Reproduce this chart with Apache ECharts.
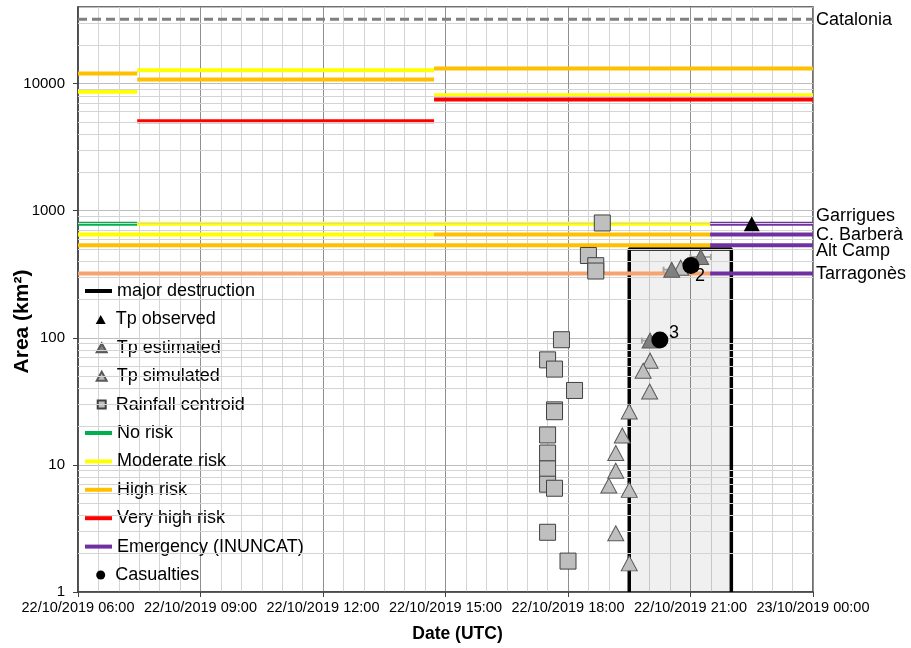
<!DOCTYPE html>
<html><head><meta charset="utf-8">
<script src="https://cdn.jsdelivr.net/npm/echarts@6/dist/echarts.min.js"></script>
<style>html,body{margin:0;padding:0;background:#fff}#c{width:911px;height:648px}</style>
</head><body><div id="c"></div>
<script>
// ---------------- DATA ----------------
// x values: hours since 22/10/2019 00:00 UTC ; areas in km2
const xTickLabels = ['22/10/2019 06:00','22/10/2019 09:00','22/10/2019 12:00','22/10/2019 15:00','22/10/2019 18:00','22/10/2019 21:00','23/10/2019 00:00'];
const yTickLabels = ['1','10','100','1000','10000'];

// warning segments: [start hour, end hour, area]
const noRisk       = [[6,7.45,790]];
const moderateRisk = [[6,7.45,8600],[7.45,14.72,12700],[14.72,24,8100],[7.45,21.48,790],[6,14.72,650]];
const highRisk     = [[6,7.45,12000],[7.45,14.72,10750],[14.72,24,13100],[14.72,21.48,650],[6,21.48,535]];
const veryHighRisk = [[7.45,14.72,5050],[14.72,24,7480]];
const tarragonesWarning = [[6,21.48,320]];
const emergency    = [[21.48,24,790],[21.48,24,650],[21.48,24,535],[21.48,24,320]];
const regionNames  = ['Garrigues','C. Barberà','Alt Camp','Tarragonès'];
const cataloniaArea = 32100;
const cataloniaName = 'Catalonia';

const majorDestruction = [19.5, 22, 500]; // start, end, area
const tpObserved  = [[22.5,790]];
const tpEstimated = [[20.01,95],[20.54,343],[21.25,432]];
const tpEstimatedErr = [0.2,0.2,0.25];
const tpSimulated = [[19.5,26.3],[19.33,17],[19.17,12.4],[19.17,9.0],[19.0,6.87],[19.5,6.36],[19.17,2.9],[19.5,1.68],
                     [20.01,66],[19.84,55],[20.0,37.8],[20.76,356]];
const rainfallCentroid = [[18.84,800],[18.5,444],[18.68,369],[18.68,335],[17.84,96.5],[17.5,67],[17.67,56.7],[18.16,38.5],
                          [17.67,27.1],[17.67,26.2],[17.5,17.2],[17.5,12.4],[17.5,9.3],[17.5,7.05],[17.67,6.55],[17.5,2.95],[18.0,1.75]];
const casualties = [[21.01,371],[20.25,96]];
const casualtyLabels = ['2','3'];

// ---------------- CHART ----------------
const FONT = 'Liberation Sans, Arial, sans-serif';
const COLORS = {no:'#00b050', mod:'#ffff00', high:'#ffc000', vhigh:'#ff0000', emer:'#7030a0', tarr:'#f4a470'};

const yMinor = [];
for (let e = 0; e < 5; e++) for (let m = 2; m <= 9; m++) { const v = m * Math.pow(10, e); if (v < 40000) yMinor.push(v); }

const series = [];
// minor log grid lines
series.push({
  type:'line', data:[], z:1, silent:true,
  markLine:{silent:true, symbol:['none','none'], label:{show:false}, animation:false,
    lineStyle:{color:'#d4d4d4', width:1, type:'solid'},
    data: yMinor.map(v => ({yAxis:v}))}
});

function segSeries(name, segs, color, width, z, extra) {
  segs.forEach((s, i) => {
    const o = {type:'line', name, data:[[s[0], s[2]], [s[1], s[2]]], symbol:'none', silent:true, z,
      lineStyle:{color, width, cap:'butt'}, itemStyle:{color}};
    if (extra) Object.assign(o, extra(i));
    series.push(o);
  });
}
// major destruction box
series.push({type:'line', name:'major destruction', symbol:'none', silent:true, z:2,
  data:[[majorDestruction[0],1],[majorDestruction[0],majorDestruction[2]],[majorDestruction[1],majorDestruction[2]],[majorDestruction[1],1]],
  lineStyle:{color:'#000', width:3.5}, itemStyle:{color:'#000'},
  areaStyle:{color:'rgba(0,0,0,0.085)', origin:'start'}});

// Catalonia
series.push({type:'line', name:cataloniaName, data:[[6,cataloniaArea],[24,cataloniaArea]], symbol:'none', silent:true, z:3,
  lineStyle:{color:'#808080', width:3, type:[9,5]}, itemStyle:{color:'#808080'},
  endLabel:{show:true, formatter:cataloniaName, color:'#000', fontSize:18, fontFamily:FONT, distance:3, offset:[0,1]}});

segSeries('No risk', noRisk, COLORS.no, 4, 3);
segSeries('Moderate risk', moderateRisk, COLORS.mod, 4, 3);
segSeries('High risk', highRisk, COLORS.high, 4, 3);
segSeries('Very high risk', veryHighRisk, COLORS.vhigh, 4, 3);
segSeries('Tarragonès warning', tarragonesWarning, COLORS.tarr, 4, 3);
const regionLabelDy = [-8, 0.5, 6, 0];
segSeries('Emergency (INUNCAT)', emergency, COLORS.emer, 4, 3, i => ({
  endLabel:{show:true, formatter:regionNames[i], color:'#000', fontSize:18, fontFamily:FONT, distance:3, offset:[0, regionLabelDy[i]]}
}));

series.push({type:'scatter', name:'Rainfall centroid', data:rainfallCentroid, symbol:'rect', symbolSize:16, z:5,
  itemStyle:{color:'#bfbfbf', borderColor:'#404040', borderWidth:1, opacity:1}});
series.push({type:'scatter', name:'Tp simulated', data:tpSimulated, symbol:'triangle', symbolSize:[16,15], z:6,
  itemStyle:{color:'#bfbfbf', borderColor:'#595959', borderWidth:1, opacity:1}});
series.push({type:'custom', name:'err', silent:true, z:6,
  data: tpEstimated.map((d, i) => [d[0], d[1], tpEstimatedErr[i]]),
  encode:{x:0, y:1},
  renderItem:(params, api) => {
    const x = api.value(0), y = api.value(1), e = api.value(2);
    const p1 = api.coord([x - e, y]), p2 = api.coord([x + e, y]);
    const st = {stroke:'#a6a6a6', lineWidth:2};
    return {type:'group', children:[
      {type:'line', shape:{x1:p1[0], y1:p1[1], x2:p2[0], y2:p2[1]}, style:st},
      {type:'line', shape:{x1:p1[0], y1:p1[1]-3, x2:p1[0], y2:p1[1]+3}, style:st},
      {type:'line', shape:{x1:p2[0], y1:p2[1]-3, x2:p2[0], y2:p2[1]+3}, style:st}
    ]};
  }});
series.push({type:'scatter', name:'Tp estimated', data:tpEstimated, symbol:'triangle', symbolSize:[16,15], z:7,
  itemStyle:{color:'#808080', borderColor:'#595959', borderWidth:1, opacity:1}});
series.push({type:'scatter', name:'Tp observed', data:tpObserved, symbol:'triangle', symbolSize:[16,15], z:7,
  itemStyle:{color:'#000', opacity:1}});
const casualtyLabelOffsets = [[-9.5, 11], [-4.5, -7]];
series.push({type:'scatter', name:'Casualties', symbol:'circle', symbolSize:17, z:8,
  data: casualties.map((d, i) => ({value:d, label:{show:true, formatter:casualtyLabels[i], position:'right', offset:casualtyLabelOffsets[i],
    color:'#000', fontSize:18, fontFamily:FONT}})),
  itemStyle:{color:'#000', opacity:1}});

// legends
const legendItems = [
  {name:'major destruction', kind:'line'},
  {name:'Tp observed', kind:'sym', icon:'triangle', w:10, h:9},
  {name:'Tp estimated', kind:'sym', icon:'triangle', w:10, h:9},
  {name:'Tp simulated', kind:'sym', icon:'triangle', w:10, h:9},
  {name:'Rainfall centroid', kind:'sym', icon:'rect', w:8, h:8},
  {name:'No risk', kind:'line'},
  {name:'Moderate risk', kind:'line'},
  {name:'High risk', kind:'line'},
  {name:'Very high risk', kind:'line'},
  {name:'Emergency (INUNCAT)', kind:'line'},
  {name:'Casualties', kind:'sym', icon:'circle', w:9, h:9}
];
const legends = legendItems.map((it, i) => {
  const yc = 291 + i * 28.4;
  const base = {data:[{name:it.name, icon: it.kind === 'line' ? 'rect' : it.icon}], selectedMode:false, orient:'horizontal',
    padding:0, textStyle:{fontSize:18, fontFamily:FONT, color:'#000', lineHeight:20}, top: yc - 10};
  if (it.kind === 'line') return Object.assign(base, {left:85, itemWidth:27, itemHeight:4});
  return Object.assign(base, {left: 100.7 - it.w / 2, itemWidth:it.w, itemHeight:it.h,
    formatter: n => ' '.repeat(Math.max(0, Math.round((116.7 - (100.7 + it.w / 2) - 5) / 5))) + n});
});

const option = {
  animation:false,
  backgroundColor:'#fff',
  textStyle:{fontFamily:FONT},
  grid:{left:78, right:98, top:7, bottom:56, show:true, borderColor:'#404040', borderWidth:1.5, backgroundColor:'transparent',
    containLabel:false, outerBoundsMode:'none'},
  legend: legends,
  xAxis:{type:'value', min:6, max:24, interval:3,
    axisLine:{show:true, lineStyle:{color:'#404040', width:1.5}},
    axisTick:{show:true, length:5, inside:false, lineStyle:{color:'#404040'}},
    axisLabel:{fontSize:14.5, color:'#000', fontFamily:FONT, margin:8,
      formatter: v => xTickLabels[Math.round((v - 6) / 3)] || ''},
    splitLine:{show:true, lineStyle:{color:'#8e8e8e', width:1}},
    minorTick:{show:false, splitNumber:6},
    minorSplitLine:{show:true, lineStyle:{color:'#d4d4d4', width:1}},
    name:'Date (UTC)', nameLocation:'middle', nameGap:33, nameMoveOverlap:false,
    nameTextStyle:{fontSize:17.5, fontWeight:'bold', color:'#000', fontFamily:FONT, padding:[0,0,0,24]}},
  yAxis:{type:'log', logBase:10, min:1, max:40000,
    axisLine:{show:true, lineStyle:{color:'#404040', width:1.5}},
    axisTick:{show:true, length:5, lineStyle:{color:'#404040'}},
    axisLabel:{fontSize:15, color:'#000', fontFamily:FONT, margin:13, showMaxLabel:false,
      formatter: v => { const l = Math.log10(v), e = Math.round(l); return Math.abs(l - e) < 1e-6 ? (yTickLabels[e] || '') : ''; }},
    splitLine:{show:true, lineStyle:{color:'#bdbdbd', width:1}},
    name:'Area (km²)', nameLocation:'middle', nameGap:45, nameRotate:90, nameMoveOverlap:false,
    nameTextStyle:{fontSize:21, fontWeight:'bold', color:'#000', fontFamily:FONT, padding:[0,44,0,0]}},
  series
};
const chart = echarts.init(document.getElementById('c'), null, {renderer:'canvas'});
chart.setOption(option);
</script>
</body></html>
